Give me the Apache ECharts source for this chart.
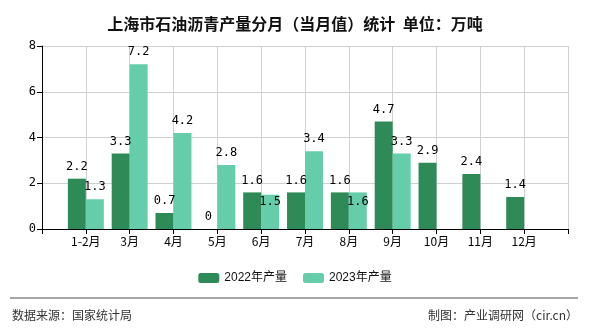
<!DOCTYPE html>
<html><head><meta charset="utf-8">
<script src="https://cdn.jsdelivr.net/npm/echarts@6/dist/echarts.min.js"></script>
<style>html,body{margin:0;padding:0;background:#fff}#c{width:590px;height:330px}</style>
</head><body><div id="c"></div>
<script>
var categories = ["1-2月","3月","4月","5月","6月","7月","8月","9月","10月","11月","12月"];
var values2022 = [2.2, 3.3, 0.7, 0, 1.6, 1.6, 1.6, 4.7, 2.9, 2.4, 1.4];
var values2023 = [1.3, 7.2, 4.2, 2.8, 1.5, 3.4, 1.6, 3.3, null, null, null];
var yTicks = [0, 2, 4, 6, 8];

function pad(arr){ return ["-"].concat(arr.map(function(v){return v===null?"-":v;})).concat(["-"]); }
var axisCats = [""].concat(categories).concat([""]);
var s22 = pad(values2022), s23 = pad(values2023);

var chart = echarts.init(document.getElementById('c'));
var lblFont = "'DejaVu Sans Mono','Noto Sans CJK SC',monospace";

// push a 2023 label below the 2022 label of the same month when the two would collide
function layout23(p){
  var i = p.dataIndex, a = s22[i], b = s23[i];
  if (typeof a !== 'number' || typeof b !== 'number' || !(b > 0)) return {};
  var r = p.rect, lr = p.labelRect;
  var top22 = r.y + r.height - r.height * a / b;
  var d = top22 - r.y; // offset of the 2022 label relative to this label
  if (Math.abs(d) < lr.height && lr.width > r.width) {
    return { dy: d + 21.5 };
  }
  return {};
}

chart.setOption({
  animation:false,
  title:{text:"上海市石油沥青产量分月（当月值）统计  单位：万吨",left:'center',top:11,
    textStyle:{fontSize:16,fontWeight:'bold',color:'#111',fontFamily:"'Noto Sans CJK SC',sans-serif"}},
  grid:{left:42,right:22,top:46,bottom:101},
  legend:{bottom:41,left:'center',itemWidth:21,itemHeight:10,itemGap:16,
    textStyle:{fontSize:12,color:'#111',fontFamily:"'Liberation Sans','Noto Sans CJK SC',sans-serif"},
    data:["2022年产量","2023年产量"]},
  xAxis:{type:'category',data:axisCats,boundaryGap:false,
    axisLine:{lineStyle:{color:'#000',width:1}},
    axisTick:{show:true,interval:0,length:5,lineStyle:{color:'#000'}},
    axisLabel:{interval:0,color:'#000',fontSize:12,margin:6,fontFamily:"'Noto Sans CJK SC',sans-serif"},
    splitLine:{show:true,interval:0,lineStyle:{color:'#d0d0d0'}}},
  yAxis:{type:'value',min:yTicks[0],max:yTicks[yTicks.length-1],interval:2,
    axisLine:{show:true,lineStyle:{color:'#000'}},
    axisTick:{show:true,length:5,lineStyle:{color:'#000'}},
    axisLabel:{color:'#000',fontSize:12,margin:6,fontFamily:lblFont},
    splitLine:{show:true,lineStyle:{color:'#d0d0d0'}}},
  series:[
    {name:"2022年产量",type:'bar',data:s22,barGap:'0%',barCategoryGap:'18%',
      itemStyle:{color:'#2E8B57'},
      label:{show:true,position:'top',distance:6,color:'#000',fontSize:12,fontFamily:lblFont}},
    {name:"2023年产量",type:'bar',data:s23,barGap:'0%',barCategoryGap:'18%',
      itemStyle:{color:'#66CDAA'},
      labelLayout:layout23,
      label:{show:true,position:'top',distance:6,color:'#000',fontSize:12,fontFamily:lblFont}}
  ],
  graphic:[
    {type:'line',shape:{x1:10,y1:298,x2:578,y2:298},style:{stroke:'#888',lineWidth:1.5}},
    {type:'text',left:12,top:309,style:{text:"数据来源：国家统计局",fontSize:12,fill:'#333',fontFamily:"'Noto Sans CJK SC',sans-serif"}},
    {type:'text',right:12,top:309,style:{text:"制图：产业调研网（cir.cn）",fontSize:12,fill:'#333',fontFamily:"'Noto Sans CJK SC',sans-serif"}}
  ]
});
</script></body></html>
